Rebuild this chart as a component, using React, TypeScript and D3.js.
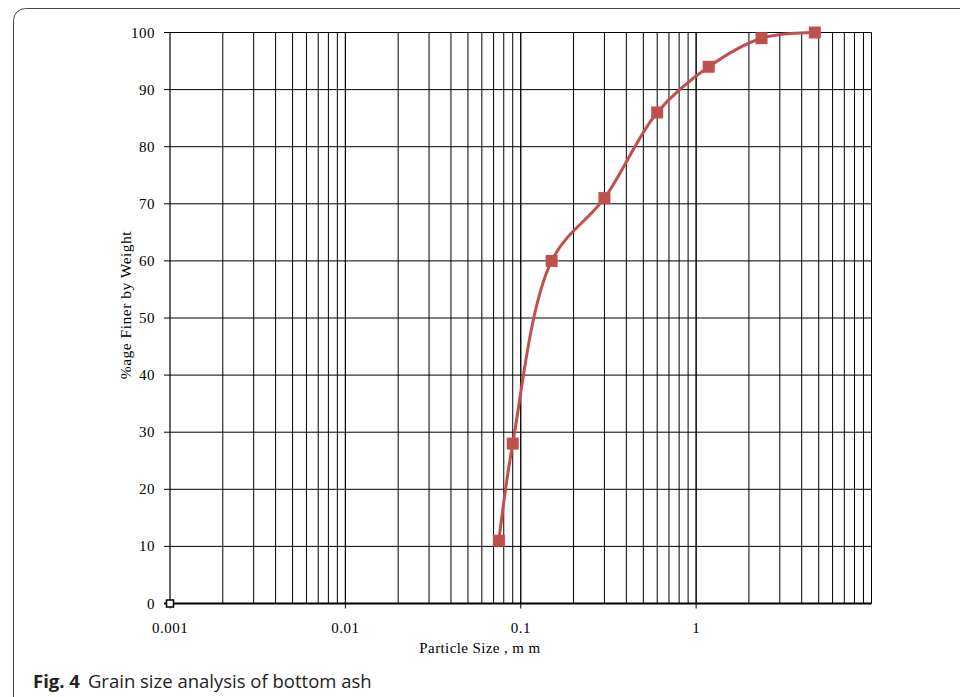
import React from "react";
import * as d3 from "d3";

const sizes = [0.075, 0.09, 0.15, 0.3, 0.6, 1.18, 2.36, 4.75];
const finer = [11, 28, 60, 71, 86, 94, 99, 100];
const originSize = [0.001];
const originFiner = [0];
const xTickValues = [0.001, 0.01, 0.1, 1];
const xTickLabels = ["0.001", "0.01", "0.1", "1"];
const yTickValues = [0, 10, 20, 30, 40, 50, 60, 70, 80, 90, 100];

const W = 960;
const H = 697;
const left = 170;
const right = 871.5;
const top = 32.5;
const bottom = 603.5;
const red = "#C0504D";
const serif = "'Liberation Serif', 'Times New Roman', serif";

export default function App() {
  const x = d3.scaleLog().domain([0.001, 10]).range([left, right]);
  const y = d3.scaleLinear().domain([0, 100]).range([bottom, top]);

  const minor: number[] = [];
  for (let e = -3; e < 1; e++) {
    for (let m = 1; m <= 10; m++) {
      const v = m * Math.pow(10, e);
      if (v > 0.001 && v <= 10 + 1e-9) minor.push(v);
    }
  }

  const pts = sizes.map((s, i) => [x(s), y(finer[i])] as [number, number]);
  const line = d3.line().curve(d3.curveCatmullRom.alpha(0.5));
  const path = line(pts) || "";
  const ms = 12;

  return (
    <svg width={W} height={H} style={{ position: "absolute", left: 0, top: 0, display: "block" }}>
      <rect x={0} y={0} width={W} height={H} fill="#fff" />
      <rect x={13.5} y={8.5} width={1000} height={760} rx={12} ry={12} fill="none" stroke="#444" strokeWidth={1} />
      {/* vertical grid */}
      {minor.map((v, i) => (
        <line key={"v" + i} x1={x(v)} x2={x(v)} y1={top} y2={bottom} stroke="#000" strokeWidth={1} />
      ))}
      {/* horizontal grid */}
      {yTickValues.map((v) => (
        <line key={"h" + v} x1={left - 6} x2={right} y1={y(v)} y2={y(v)} stroke="#000" strokeWidth={v === 0 ? 2 : 1} />
      ))}
      <line x1={left} x2={left} y1={top} y2={bottom} stroke="#000" strokeWidth={1.2} />
      {/* x decade ticks */}
      {xTickValues.map((v) => (
        <line key={"xt" + v} x1={x(v)} x2={x(v)} y1={bottom} y2={bottom + 5} stroke="#000" strokeWidth={1} />
      ))}
      {/* y labels */}
      {yTickValues.map((v) => (
        <text key={"yl" + v} x={155} y={y(v) + 5} textAnchor="end" fontFamily={serif} fontSize={15} letterSpacing={0.5} fill="#000">
          {v}
        </text>
      ))}
      {/* x labels */}
      {xTickValues.map((v, i) => (
        <text key={"xl" + v} x={x(v)} y={633} textAnchor="middle" fontFamily={serif} fontSize={15} letterSpacing={0.5} fill="#000">
          {xTickLabels[i]}
        </text>
      ))}
      <text x={480} y={653} textAnchor="middle" fontFamily={serif} fontSize={15} letterSpacing={0.4} fill="#000">
        Particle Size , m m
      </text>
      <text
        transform={`translate(131, 305) rotate(-90)`}
        textAnchor="middle"
        fontFamily={serif}
        fontSize={15.5}
        letterSpacing={0.5}
        fill="#000"
      >
        %age  Finer by Weight
      </text>
      {/* curve */}
      <path d={path} fill="none" stroke={red} strokeWidth={3} />
      {pts.map(([px, py], i) => (
        <rect key={"m" + i} x={px - ms / 2} y={py - ms / 2} width={ms} height={ms} fill={red} />
      ))}
      {originSize.map((s, i) => (
        <rect key={"o" + i} x={x(s) - 3.5} y={y(originFiner[i]) - 3.5} width={7} height={7} fill="#fff" stroke="#000" strokeWidth={1.5} />
      ))}
      {/* caption */}
      <text x={33} y={688} fontFamily="'Open Sans', 'Noto Sans', sans-serif" fontSize={18.5} fill="#222">
        <tspan fontWeight="bold">Fig. 4</tspan>
        <tspan dx={8}>Grain size analysis of bottom ash</tspan>
      </text>
    </svg>
  );
}
